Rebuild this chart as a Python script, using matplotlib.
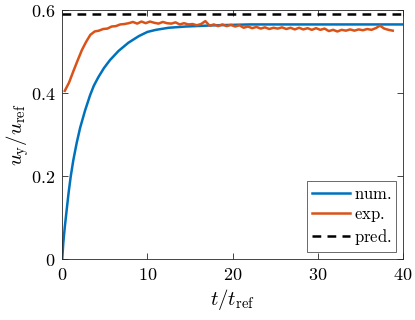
import numpy as np
import matplotlib
matplotlib.use("Agg")
import matplotlib.pyplot as plt

plt.rcParams['mathtext.fontset'] = 'cm'
plt.rcParams['font.family'] = 'DejaVu Serif'

# numerical curve
t_num = [0, 0.12, 0.3, 0.52, 0.75, 0.99, 1.3, 1.69, 2.1, 2.67, 3.26, 3.7, 4.24, 4.9, 5.6,
         6.6, 7.77, 9, 10, 11, 12.5, 14.5, 18, 22, 30, 40]
u_num = [0, 0.038, 0.077, 0.118, 0.160, 0.198, 0.238, 0.279, 0.316, 0.357, 0.394, 0.417,
         0.438, 0.460, 0.479, 0.501, 0.521, 0.537, 0.547, 0.552, 0.557, 0.560, 0.563,
         0.565, 0.565, 0.565]

t_exp = np.arange(0.3, 39.0, 0.5)
u_exp = [0.405, 0.425, 0.452, 0.478, 0.503, 0.523, 0.540, 0.548, 0.550, 0.554,
         0.555, 0.560, 0.561, 0.565, 0.566, 0.568, 0.571, 0.567, 0.572, 0.568,
         0.572, 0.569, 0.567, 0.571, 0.568, 0.567, 0.570, 0.565, 0.568, 0.565,
         0.566, 0.563, 0.566, 0.573, 0.562, 0.565, 0.561, 0.565, 0.561, 0.564,
         0.560, 0.563, 0.557, 0.560, 0.556, 0.559, 0.555, 0.558, 0.554, 0.557,
         0.555, 0.558, 0.554, 0.557, 0.553, 0.557, 0.553, 0.556, 0.552, 0.556,
         0.552, 0.555, 0.549, 0.552, 0.548, 0.552, 0.550, 0.553, 0.550, 0.553,
         0.551, 0.554, 0.552, 0.556, 0.562, 0.555, 0.552, 0.550]

u_pred = 0.589

xticks = [0, 10, 20, 30, 40]
yticks = [0, 0.2, 0.4, 0.6]

fig = plt.figure(figsize=(4.15, 3.2), dpi=100)
ax = fig.add_axes([0.150, 0.191, 0.821, 0.778])

ax.plot(t_num, u_num, color='#0072BD', lw=1.8, label=r'$\mathrm{num.}$')
ax.plot(t_exp, u_exp, color='#D95319', lw=1.8, label=r'$\mathrm{exp.}$')
ax.axhline(u_pred, color='black', lw=1.8, ls=(0, (3.5, 2.5)), label=r'$\mathrm{pred.}$')

ax.set_xlim(0, 40)
ax.set_ylim(0, 0.6)
ax.set_xticks(xticks)
ax.set_yticks(yticks)
ax.set_xticklabels([f'${v:g}$' for v in xticks])
ax.set_yticklabels([f'${v:g}$' for v in yticks])
ax.tick_params(direction='in', top=True, right=True, labelsize=13, length=4,
               color='#262626', width=0.6, pad=5)
for s in ax.spines.values():
    s.set_color('#262626')
    s.set_linewidth(0.6)

ax.set_xlabel(r'$t/t_\mathrm{ref}$', fontsize=15, labelpad=2)
ax.set_ylabel(r'$u_\mathrm{y}/u_\mathrm{ref}$', fontsize=15, labelpad=0)

leg = ax.legend(loc='lower right', fontsize=12, frameon=True, fancybox=False,
                edgecolor='#262626', handlelength=2.3, handletextpad=0.2,
                borderpad=0.3, labelspacing=0.2, borderaxespad=0.4)
leg.get_frame().set_linewidth(0.6)

fig.savefig('out.png', dpi=100)
